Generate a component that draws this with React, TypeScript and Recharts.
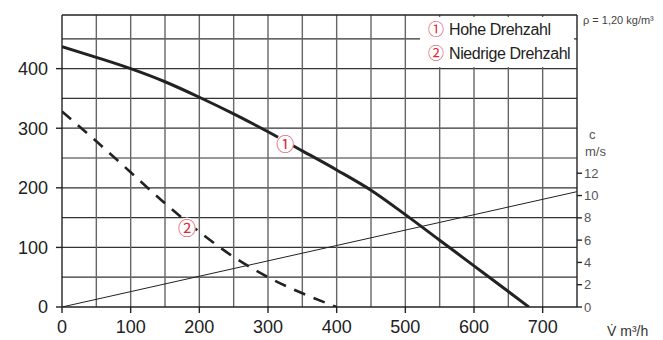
import { ComposedChart, Line, XAxis, YAxis, ReferenceLine, ReferenceDot } from 'recharts'

// axis ticks
const volumeTicks = [0, 100, 200, 300, 400, 500, 600, 700]
const pressureTicks = [0, 100, 200, 300, 400]
const velocityTicks = [0, 2, 4, 6, 8, 10, 12]

// grid lines (every 50)
const gridVolume = [50, 100, 150, 200, 250, 300, 350, 400, 450, 500, 550, 600, 650, 700]
const gridPressure = [50, 100, 150, 200, 250, 300, 350, 400, 450]

// ① Hohe Drehzahl
const highVolume = [0, 50, 100, 150, 200, 250, 300, 350, 400, 450, 500, 550, 600, 650, 680]
const highPressure = [437, 419, 400, 378, 352, 324, 294, 262, 230, 196, 155, 112, 69, 26, 0]

// ② Niedrige Drehzahl
const lowVolume = [0, 50, 100, 150, 200, 250, 300, 350, 400]
const lowPressure = [328, 278, 226, 174, 126, 84, 50, 23, 0]

// duct velocity c (right axis)
const ductVolume = [0, 750]
const ductVelocity = [0, 10.35]

const seriesNames = ['Hohe Drehzahl', 'Niedrige Drehzahl']
const seriesMarks = ['\u2460', '\u2461']

const highData = highVolume.map((v, i) => ({ v, p: highPressure[i] }))
const lowData = lowVolume.map((v, i) => ({ v, p: lowPressure[i] }))
const ductData = ductVolume.map((v, i) => ({ v, c: ductVelocity[i] }))

const font = '"Liberation Sans", Arial, sans-serif'
const markFont = '"Noto Sans CJK JP", "DejaVu Sans", sans-serif'
const red = '#e0283a'

function Mark({ cx, cy, text }: { cx?: number; cy?: number; text: string }) {
  if (cx == null || cy == null) return null
  return (
    <g>
      <circle cx={cx} cy={cy} r={9} fill="#fff" />
      <text
        x={cx}
        y={cy}
        textAnchor="middle"
        dominantBaseline="central"
        fontSize={18}
        fontFamily={markFont}
        fill={red}
      >
        {text}
      </text>
    </g>
  )
}

function LegendBox() {
  return (
    <div
      style={{
        position: 'absolute',
        left: 420,
        top: 17,
        background: '#fff',
        width: 154,
        height: 50,
        padding: '0 0 0 8px',
        boxSizing: 'border-box',
        fontFamily: font,
        fontSize: 16,
        letterSpacing: -0.4,
        color: '#222',
        lineHeight: '22px',
      }}
    >
      {seriesNames.map((name, i) => (
        <div key={name} style={{ whiteSpace: 'nowrap' }}>
          <span
            style={{
              color: red,
              fontFamily: markFont,
              fontSize: 16,
              letterSpacing: 0,
              marginRight: 5,
            }}
          >
            {seriesMarks[i]}
          </span>
          {name}
        </div>
      ))}
    </div>
  )
}

export default function App() {
  return (
    <div style={{ position: 'relative', width: 663, height: 340, background: '#fff' }}>
      <style>{'body{margin:0}'}</style>
      <ComposedChart width={663} height={340} margin={{ top: 15, right: 0, bottom: 0, left: 0 }}>
        {gridPressure.map((p) => (
          <ReferenceLine key={'h' + p} y={p} yAxisId="p" stroke="#333" strokeWidth={1.2} />
        ))}
        {gridVolume.map((v) => (
          <ReferenceLine key={'v' + v} x={v} yAxisId="p" stroke="#666" strokeWidth={1.4} />
        ))}
        <ReferenceLine y={490} yAxisId="p" stroke="#222" strokeWidth={1.4} />
        <XAxis
          type="number"
          dataKey="v"
          domain={[0, 750]}
          ticks={volumeTicks}
          allowDataOverflow
          height={33}
          tickSize={6}
          tickMargin={7}
          stroke="#222"
          strokeWidth={1.4}
          tick={{ fill: '#222', fontSize: 18, fontFamily: font }}
        />
        <YAxis
          yAxisId="p"
          domain={[0, 490]}
          ticks={pressureTicks}
          allowDataOverflow
          width={62}
          tickSize={6}
          tickMargin={8}
          stroke="#222"
          strokeWidth={1.4}
          tick={{ fill: '#222', fontSize: 18, fontFamily: font }}
        />
        <YAxis
          yAxisId="c"
          orientation="right"
          domain={[0, 26.2]}
          ticks={velocityTicks}
          allowDataOverflow
          width={86}
          tickSize={5}
          tickMargin={2}
          stroke="#222"
          strokeWidth={1.4}
          tick={{ fill: '#555', fontSize: 13, fontFamily: font }}
        />
        <Line
          yAxisId="c"
          data={ductData}
          dataKey="c"
          type="linear"
          stroke="#222"
          strokeWidth={1}
          dot={false}
          isAnimationActive={false}
        />
        <Line
          yAxisId="p"
          data={lowData}
          dataKey="p"
          name={seriesNames[1]}
          type="monotone"
          stroke="#222"
          strokeWidth={2.6}
          strokeDasharray="12 9"
          dot={false}
          isAnimationActive={false}
        />
        <Line
          yAxisId="p"
          data={highData}
          dataKey="p"
          name={seriesNames[0]}
          type="monotone"
          stroke="#222"
          strokeWidth={3}
          dot={false}
          isAnimationActive={false}
        />
        <ReferenceDot
          yAxisId="p"
          x={325}
          y={276}
          r={9}
          shape={(props: any) => <Mark cx={props.cx} cy={props.cy} text={seriesMarks[0]} />}
        />
        <ReferenceDot
          yAxisId="p"
          x={182}
          y={135}
          r={9}
          shape={(props: any) => <Mark cx={props.cx} cy={props.cy} text={seriesMarks[1]} />}
        />
      </ComposedChart>
      <LegendBox />
      <svg
        width={663}
        height={340}
        style={{ position: 'absolute', left: 0, top: 0, pointerEvents: 'none' }}
        fontFamily={font}
      >
        <text x={583} y={24} fontSize={11} fill="#444">
          ρ = 1,20 kg/m³
        </text>
        <text x={589} y={139} fontSize={13} fill="#555">
          c
        </text>
        <text x={585} y={156} fontSize={13} fill="#555">
          m/s
        </text>
        <text x={607} y={336} fontSize={14} fill="#333">
          V̇ m³/h
        </text>
      </svg>
    </div>
  )
}
